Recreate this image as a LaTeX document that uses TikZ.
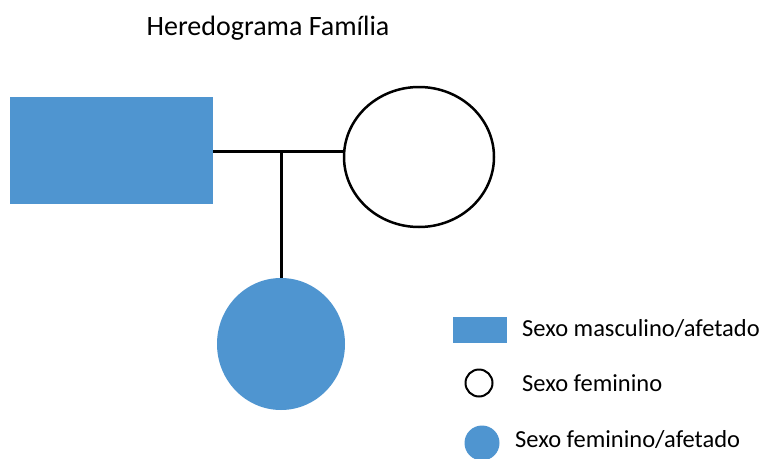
\documentclass[tikz,border=0pt]{standalone}
\usepackage{fontspec}
\setmainfont{Carlito}
\usetikzlibrary{shapes.geometric}
\definecolor{affblue}{RGB}{79,149,208}
\begin{document}
\begin{tikzpicture}[x=1pt,y=-1pt,
  aff/.style={fill=affblue,draw=none},
  con/.style={line width=3pt},
  lbl/.style={anchor=west,inner sep=0pt,font=\fontsize{24.5}{28}\selectfont}]
\useasboundingbox[fill=white] (0,0) rectangle (763,458);
\node[inner sep=0pt,font=\fontsize{28}{32}\selectfont] (title) at (268,28) {Heredograma Família};
\node[aff,rectangle,minimum width=203pt,minimum height=107pt,inner sep=0pt] (father) at (111.5,150.5) {};
\node[draw,line width=2.5pt,ellipse,minimum width=150pt,minimum height=140pt,inner sep=0pt] (mother) at (419,157) {};
\node[aff,ellipse,minimum width=128pt,minimum height=132pt,inner sep=0pt] (child) at (281,344) {};
\coordinate (mid) at (281,151);
\draw[con] (father.east |- mid) -- (mid) -- (mother.west |- mid);
\draw[con] (mid) -- (child.north);
% legend
\node[aff,rectangle,minimum width=54pt,minimum height=26pt,inner sep=0pt] (lm) at (480,330) {};
\node[lbl] (tm) at (522,329) {Sexo masculino/afetado};
\node[draw,circle,line width=2pt,minimum size=27pt,inner sep=0pt] (lf) at (479,383) {};
\node[lbl] (tf) at (522,383) {Sexo feminino};
\node[aff,circle,minimum size=35pt,inner sep=0pt] (la) at (482,443) {};
\node[lbl] (ta) at (515,440) {Sexo feminino/afetado};
\end{tikzpicture}
\end{document}
